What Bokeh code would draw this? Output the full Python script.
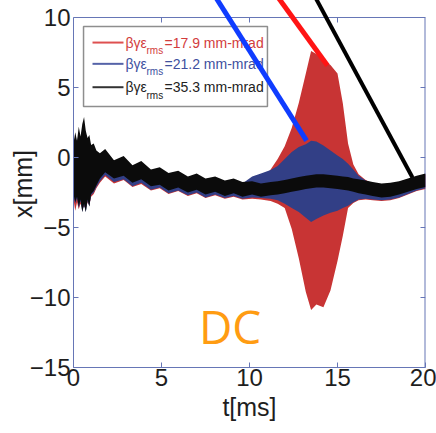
from bokeh.plotting import figure
from bokeh.models import Range1d, FixedTicker, Span, Label, BoxAnnotation
from bokeh.embed import file_html
from bokeh.resources import INLINE

# ---------------- data ----------------
t_ms = [0.0, 0.1, 0.2, 0.3, 0.4, 0.5, 0.6, 0.7, 0.8, 0.9,
        1.0, 1.15, 1.3, 1.5, 1.8, 2.3, 2.85, 3.35, 3.85, 4.4,
        4.9, 5.4, 5.95, 6.5, 7.0, 7.5, 8.05, 8.6, 9.1, 9.6,
        10.15, 10.65, 11.2, 11.6, 12.0, 12.4, 12.8, 13.2, 13.5, 13.8,
        14.2, 14.6, 15.0, 15.3, 15.6, 15.9, 16.2, 16.6, 17.0, 17.5,
        18.0, 18.5, 19.0, 19.5, 20.0]

# beta*gamma*eps_rms = 17.9 mm-mrad (red) envelope
red_hi = [0.5, 1.2, 0.8, 1.5, 1.0, 1.8, 2.0, 1.4, 1.0, 1.1,
          0.6, 0.6, 0.2, 0.0, 0.2, -0.5, -0.2, -0.8, -0.5, -1.05,
          -0.9, -1.3, -1.15, -1.5, -1.35, -1.65, -1.5, -1.8, -1.65, -1.85,
          -1.75, -1.6, -0.85, -0.1, 0.8, 2.1, 3.9, 6.0, 7.6, 7.4,
          7.0, 6.6, 6.0, 3.9, 1.0, -0.5, -1.2, -1.6, -1.85, -1.95,
          -1.9, -1.75, -1.55, -1.35, -1.2]
red_lo = [-3.0, -3.8, -3.2, -3.7, -3.3, -3.6, -3.5, -3.6, -3.2, -3.4,
          -2.8, -2.6, -2.2, -1.8, -1.35, -1.85, -1.6, -2.1, -1.9, -2.35,
          -2.2, -2.6, -2.4, -2.75, -2.55, -2.9, -2.7, -2.95, -2.8, -3.0,
          -2.95, -3.0, -3.1, -3.3, -3.6, -5.1, -7.2, -9.6, -10.9, -10.5,
          -10.7, -9.5, -7.4, -5.6, -3.6, -3.25, -3.05, -3.0, -3.05, -3.1,
          -3.05, -2.9, -2.65, -2.4, -2.25]

# 21.2 mm-mrad (blue) envelope
blue_hi = [0.8, 1.5, 1.0, 1.8, 1.3, 2.0, 2.4, 1.6, 1.2, 1.3,
           0.7, 0.8, 0.3, 0.1, 0.3, -0.4, -0.1, -0.7, -0.45, -1.0,
           -0.85, -1.25, -1.1, -1.45, -1.3, -1.6, -1.45, -1.75, -1.6, -1.85,
           -1.35, -1.15, -0.9, -0.6, -0.1, 0.4, 0.75, 0.95, 1.2, 1.15,
           0.85, 0.5, 0.15, -0.1, -0.45, -0.85, -1.3, -1.65, -1.9, -1.95,
           -1.9, -1.75, -1.55, -1.35, -1.2]
blue_lo = [-2.7, -3.3, -2.9, -3.6, -3.1, -3.9, -3.4, -3.9, -3.1, -3.5,
           -2.7, -2.5, -2.1, -1.7, -1.25, -1.75, -1.55, -2.05, -1.8, -2.3,
           -2.15, -2.55, -2.35, -2.7, -2.5, -2.85, -2.65, -2.9, -2.75, -2.95,
           -2.85, -2.9, -2.95, -3.05, -3.3, -3.6, -3.9, -4.3, -4.6, -4.4,
           -4.15, -3.95, -3.8, -3.6, -3.45, -3.2, -3.0, -2.95, -3.0, -3.05,
           -3.0, -2.85, -2.6, -2.35, -2.2]

# 35.3 mm-mrad (black) envelope
black_hi = [1.0, 1.8, 1.2, 2.2, 1.5, 2.4, 2.9, 1.9, 1.4, 1.6,
            0.9, 1.0, 0.5, 0.3, 0.6, -0.2, 0.1, -0.55, -0.25, -0.85,
            -0.7, -1.1, -0.95, -1.35, -1.15, -1.5, -1.35, -1.65, -1.5, -1.75,
            -1.7, -1.85, -1.75, -1.7, -1.6, -1.5, -1.4, -1.3, -1.25, -1.2,
            -1.2, -1.25, -1.3, -1.35, -1.4, -1.5, -1.55, -1.65, -1.75, -1.85,
            -1.8, -1.7, -1.5, -1.3, -1.15]
black_lo = [-2.6, -3.2, -2.8, -3.5, -3.0, -3.9, -3.3, -3.9, -3.0, -3.5,
            -2.6, -2.4, -2.0, -1.5, -1.05, -1.5, -1.3, -1.8, -1.55, -2.05,
            -1.95, -2.35, -2.15, -2.5, -2.3, -2.65, -2.45, -2.75, -2.55, -2.8,
            -2.65, -2.8, -2.7, -2.65, -2.55, -2.45, -2.35, -2.25, -2.2, -2.15,
            -2.15, -2.2, -2.25, -2.3, -2.35, -2.45, -2.55, -2.65, -2.75, -2.85,
            -2.8, -2.65, -2.45, -2.25, -2.1]

legend_values = ["=17.9 mm-mrad", "=21.2 mm-mrad", "=35.3 mm-mrad"]
x_ticks = [0, 5, 10, 15, 20]
y_ticks = [-15, -10, -5, 0, 5, 10]

# pointer lines drawn over the plot (start / end in data units)
ptr_t0 = [7.8, 11.3, 13.5]
ptr_x0 = [12.0, 12.0, 12.0]
ptr_t1 = [13.24, 14.43, 19.26]
ptr_x1 = [1.21, 6.57, -1.43]

# ---------------- styling ----------------
AX = "#6676b6"
TXT = "#1e1e1e"
FONT = "Liberation Sans"
RED, BLUE, BLACK = "#c83434", "#323f86", "#0b0b0b"

FW, FH = 352, 367          # frame size in px
BL, BR, BB = 73, 11, 66    # borders
Y_TOP = 10 + 17 / 14.0     # frame extends above y=10 so that pointer lines show
PX_Y = FH / (Y_TOP + 15)
PX_X = FW / 20.0

p = figure(frame_width=FW, frame_height=FH, x_range=Range1d(0, 20), y_range=Range1d(-15, Y_TOP),
           output_backend="svg", toolbar_location=None,
           min_border_left=BL, min_border_right=BR, min_border_top=0, min_border_bottom=BB,
           x_axis_label="t[ms]", y_axis_label="x[mm]")
p.outline_line_color = None
p.grid.visible = False
p.background_fill_color = "white"
p.border_fill_color = "white"

def style_axis(ax, ticks):
    ax.ticker = FixedTicker(ticks=ticks)
    ax.axis_line_color = AX
    ax.major_tick_line_color = AX
    ax.minor_tick_line_color = None
    ax.major_tick_in = 5
    ax.major_tick_out = 0
    ax.major_label_text_font = FONT
    ax.major_label_text_font_size = "24px"
    ax.major_label_text_color = TXT
    ax.axis_label_text_font = FONT
    ax.axis_label_text_font_size = "25px"
    ax.axis_label_text_font_style = "normal"
    ax.axis_label_text_color = TXT

style_axis(p.xaxis[0], x_ticks)
p.xaxis[0].major_label_standoff = 1
p.xaxis[0].axis_label_standoff = 4
style_axis(p.yaxis[0], y_ticks)
p.yaxis[0].bounds = (-15, 10)
p.yaxis[0].major_label_standoff = 3
p.yaxis[0].axis_label_standoff = -10

# top border (y = 10) with inward ticks
p.add_layout(Span(location=10, dimension="width", line_color=AX, line_width=1))
top_ticks = x_ticks[1:-1]
p.segment(x0=top_ticks, y0=[10] * len(top_ticks), x1=top_ticks,
          y1=[10 - 5 / PX_Y] * len(top_ticks), line_color=AX, line_width=1)
# right border (t = 20) with inward ticks
p.segment(x0=[20], y0=[-15], x1=[20], y1=[10], line_color=AX, line_width=2)
p.segment(x0=[20] * len(y_ticks), y0=y_ticks, x1=[20 - 5 / PX_X] * len(y_ticks), y1=y_ticks,
          line_color=AX, line_width=1)

# ---------------- data bands ----------------
p.varea(x=t_ms, y1=red_lo, y2=red_hi, fill_color=RED)
p.varea(x=t_ms, y1=blue_lo, y2=blue_hi, fill_color=BLUE)
p.varea(x=t_ms, y1=black_lo, y2=black_hi, fill_color=BLACK)

# ---------------- legend (drawn by hand: coloured labels with subscript) ----------------
leg_left, leg_right, leg_top, leg_bottom = 0.57, 11.02, 9.36, 3.64
p.add_layout(BoxAnnotation(left=leg_left, right=leg_right, top=leg_top, bottom=leg_bottom,
                           fill_color="white", fill_alpha=1.0,
                           line_color="#8e8e8e", line_width=1.5, line_alpha=1.0))
row_y = [8.21, 6.69, 5.02]
sample_cols = ["#de5050", "#5563a8", "#333333"]
text_cols = ["#d23c3c", "#40509e", "#222222"]
seg = p.segment(x0=[1.08] * 3, y0=row_y, x1=[2.84] * 3, y1=row_y,
                line_color=sample_cols, line_width=2)
seg.level = "overlay"
for yy, val, col in zip(row_y, legend_values, text_cols):
    p.add_layout(Label(x=2.95, y=yy, text="βγε", text_font=FONT, text_font_size="14px",
                       text_color=col, text_baseline="middle"))
    p.add_layout(Label(x=4.15, y=yy - 0.57, text="rms", text_font=FONT, text_font_size="10px",
                       text_color=col, text_baseline="middle"))
    p.add_layout(Label(x=5.17, y=yy, text=val, text_font=FONT, text_font_size="14px",
                       text_color=col, text_baseline="middle"))

# ---------------- pointer lines ----------------
ptr = p.segment(x0=ptr_t0, y0=ptr_x0, x1=ptr_t1, y1=ptr_x1,
                line_color=["#0f3cff", "#ff1414", "#000000"], line_width=[5, 5, 4])
ptr.level = "overlay"

# ---------------- "DC" ----------------
p.add_layout(Label(x=8.9, y=-12.07, text="DC", text_font="Open Sans", text_font_size="46px",
                   text_color="#ff9c12", text_align="center", text_baseline="middle"))

open("out.html", "w").write(file_html(p, INLINE))
